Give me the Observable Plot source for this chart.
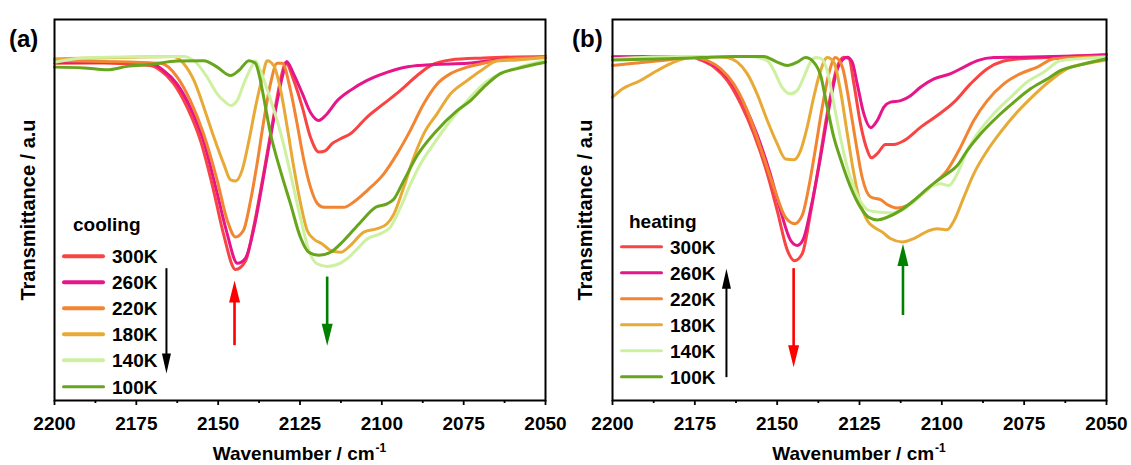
<!DOCTYPE html>
<html><head><meta charset="utf-8">
<script src="https://cdn.jsdelivr.net/npm/d3@7"></script>
<script src="https://cdn.jsdelivr.net/npm/@observablehq/plot@0.6"></script>
<style>
body{margin:0;background:#fff;font-family:"Liberation Sans",Arial,sans-serif;}
#wrap{position:relative;width:1131px;height:465px;overflow:hidden;background:#fff;}
#wrap svg{position:absolute;top:0;}
.lbl{position:absolute;font-weight:bold;color:#000;white-space:nowrap;line-height:1;transform:translateY(-50%);z-index:2;}
.sw{position:absolute;height:3.5px;border-radius:2px;transform:translateY(-50%);z-index:2;}
</style></head><body><div id="wrap"></div>
<script>
// ---------- data ----------
const temps = ["300K","260K","220K","180K","140K","100K"];
const xTicks = [2200,2175,2150,2125,2100,2075,2050];
const xMinorTicks = [2187.5,2162.5,2137.5,2112.5,2087.5,2062.5];

// (a) cooling: [wavenumber, transmittance (a.u.)]
const cooling300 = [[2200,88.5],[2185,88.6],[2170.7,87.9],[2167.6,86.6],[2163.6,83.2],[2159.5,77],[2155.4,68.2],[2151.4,55.1],[2148.4,43.8],[2144.7,34.4],[2141.6,36.7],[2139.2,45.4],[2136.1,59.6],[2133.1,74.3],[2130,87.4],[2129.4,88.7],[2126.9,84],[2124.3,77],[2121.8,69.1],[2119.2,65.2],[2117.2,65.6],[2115.2,67.4],[2112.6,68.7],[2109.6,70],[2104.5,74.4],[2099.4,77.9],[2094.3,81.4],[2089.2,85.3],[2085.1,87.9],[2079,89.4],[2068.9,89.9],[2050,90.3]];
const cooling260 = [[2200,88.7],[2185,88.8],[2170.7,88.5],[2166.7,86.6],[2162.7,83.2],[2158.5,76.9],[2154.5,68.2],[2150.5,55.1],[2147.5,44.6],[2144.1,36.0],[2141.7,37.3],[2138.9,45.9],[2135.8,60.4],[2132.8,74.8],[2130.3,85.3],[2129.1,89.0],[2127,85.8],[2124.3,80.6],[2121.8,75.6],[2119.3,73.5],[2117.2,74.8],[2113.6,78.7],[2109.6,81.4],[2104.5,84],[2099.5,85.8],[2094.3,87.2],[2089.1,87.9],[2084.2,88.2],[2073.8,88.5],[2063.7,89.5],[2050,90]];
const cooling220 = [[2200,89.2],[2185,89.0],[2167.6,88.5],[2162.5,84.9],[2158.5,78.7],[2154.5,70.1],[2150.3,57.8],[2147.2,47.2],[2144.7,42.9],[2142.3,44.6],[2140.1,52.5],[2138.1,62.2],[2136.2,72.7],[2134,83.2],[2132,88.5],[2130.4,88.5],[2127.9,81.4],[2125.9,72.7],[2123.8,63],[2121.8,56],[2119.7,51.7],[2117.7,50.7],[2111.6,50.7],[2108.6,52.1],[2104.5,55.1],[2099.4,59.5],[2095.3,64.8],[2091.3,70.9],[2087.2,77.9],[2083.1,83.1],[2079,85.8],[2073.9,87.5],[2068.9,88.5],[2063.7,89.4],[2050,90.1]];
const cooling180 = [[2200,89.7],[2179.8,90],[2163.6,90.3],[2160.5,88.4],[2157.4,84],[2154.4,77],[2151.3,69.1],[2148.3,62.1],[2146.2,57.9],[2144.7,57.6],[2142.7,60.4],[2140.6,68.2],[2138.6,77],[2136.5,84.9],[2135,89.2],[2133,87.9],[2130.9,81.4],[2128.9,71.7],[2126.9,61.2],[2124.8,51.6],[2122.8,44.6],[2120.8,42.4],[2118.2,41.1],[2115.7,39.4],[2112.6,38.9],[2109.6,40.7],[2105.5,44.2],[2101.4,45.1],[2098.4,46.4],[2096.3,49],[2093.3,56],[2090.2,63.9],[2087.2,70],[2083.1,75.3],[2079,80.5],[2073.9,84],[2068.9,87.1],[2064.8,89.1],[2058.6,89.4],[2050,90.1]];
const cooling140 = [[2200,88.8],[2189,90],[2160.5,90.3],[2156.4,88.4],[2153.4,84.9],[2150.3,80.5],[2147.8,78.3],[2146.2,77.4],[2144.2,78.7],[2142.2,83.1],[2140.1,87.1],[2138.6,89.1],[2137.1,86.5],[2134,79],[2131,70.5],[2127.9,59.5],[2124.9,48.1],[2122.3,39.4],[2119.8,35.9],[2116.7,35.2],[2113.6,35.7],[2110.6,37.2],[2107.5,39.8],[2104.5,42.4],[2100.4,43.8],[2097.4,45.5],[2094.3,50.7],[2091.2,56.9],[2088.2,62.1],[2084.1,67.4],[2079,73.5],[2073.9,78.7],[2068.9,83.1],[2063.8,85.8],[2058.7,87.3],[2050,89.3]];
const cooling100 = [[2200,87.5],[2191,87.3],[2183.9,86.8],[2177.8,87.7],[2170.7,88.2],[2162.5,89.1],[2154.4,89.2],[2150.3,87.5],[2146.2,85.3],[2143.7,86.6],[2140.6,89.2],[2138.6,88.5],[2137.1,84],[2136.1,79.6],[2134,70],[2131,60.4],[2127.9,51.6],[2124.9,42.9],[2122.3,38.9],[2119.3,38.1],[2115.7,38.9],[2111.6,42],[2106.5,46.8],[2101.9,50.7],[2098.4,51.6],[2096.3,52.9],[2093.3,57.7],[2089.2,64.3],[2084.1,70],[2077,76.1],[2072.9,78.7],[2068.9,82.2],[2063.8,85.8],[2058.7,87.1],[2050,88.8]];

// (b) heating
const heating300 = [[2200,90.3],[2176.3,90.3],[2173.3,89.4],[2169.2,87.5],[2165.2,84],[2161.1,77.9],[2157.1,70],[2153,59.5],[2150,49.9],[2146.9,39.4],[2144.7,36.7],[2142.4,38.5],[2139.9,49],[2137.3,62.1],[2134.8,75.3],[2131.8,87.5],[2129.8,90.1],[2128.2,89.7],[2126.7,83.1],[2124.7,72.6],[2122.6,65.6],[2121.4,63.7],[2119.6,64.8],[2117.1,67.2],[2114.6,67.2],[2111.5,68.2],[2106.5,71.7],[2101.4,74.8],[2096.3,78.3],[2091.3,83.1],[2086.2,87.1],[2081.2,89.1],[2076.1,89.7],[2066.1,90.1],[2050,90.8]];
const heating260 = [[2200,90],[2176.3,90.3],[2172.4,89.4],[2168.4,87.5],[2164.3,84],[2160.2,77.9],[2156.2,70],[2152.1,59.5],[2149,49.9],[2145.9,42],[2143.9,40.7],[2142,42.5],[2139.6,51.2],[2137,63],[2134.4,76.1],[2131.4,87.7],[2128.7,90.1],[2127.2,88.8],[2125.7,83.1],[2123.7,75.3],[2121.6,71.6],[2119.6,73.5],[2117.6,77],[2115.6,78.3],[2112.5,78.7],[2109.5,80],[2106.5,82.2],[2102.4,84.4],[2097.3,85.8],[2093.3,87.5],[2089.2,89.2],[2084.2,90],[2076.1,90.1],[2050,90.6]];
const heating220 = [[2200,87.9],[2193.5,88.5],[2183.4,89.4],[2175.3,90],[2171.2,89.2],[2167.2,87.1],[2163.2,83.1],[2159.1,76.1],[2155.1,66.5],[2151,56],[2147.5,48.1],[2144.7,46.4],[2142.4,48.6],[2140.4,56],[2138.3,66.5],[2136.3,77],[2134.3,85.8],[2132.3,90],[2130.2,87.5],[2128.2,78.7],[2126.2,68.2],[2124.2,58.6],[2121.6,53.4],[2118.6,52.7],[2116.1,51.2],[2113.5,50.5],[2110.5,51.2],[2106.5,53.8],[2102.4,56.9],[2098.4,60.4],[2094.3,66.5],[2090.3,73.5],[2086.2,78.7],[2081.2,83.1],[2076.1,85.8],[2071,87.5],[2066,89.7],[2050,90.3]];
const heating180 = [[2200,79.6],[2197.6,81.4],[2191.5,84],[2186.4,86.6],[2181.4,88.8],[2176.3,90.1],[2170.2,90.3],[2165.2,90],[2162.1,88.8],[2159.1,85.8],[2156.1,80.5],[2153,73.5],[2150,67.4],[2147.5,63.4],[2144.9,63.2],[2142.9,65.6],[2140.9,71.7],[2138.9,79.6],[2136.8,86.6],[2134.8,90],[2132.8,88.8],[2130.8,81.4],[2128.7,70],[2126.7,59.5],[2124.7,51.6],[2122.6,47.2],[2120.6,45.5],[2118.1,44.2],[2115.6,42.5],[2112,41.6],[2108.5,42.5],[2104.4,44.4],[2101.4,45.1],[2098.4,44.8],[2096.3,47.2],[2093.3,53.4],[2090.3,59.5],[2086.2,65.6],[2082.2,70.4],[2077.1,75.7],[2072.1,80.1],[2067,84],[2061.9,87.1],[2055.8,88.5],[2050,89.4]];
const heating140 = [[2200,89.7],[2179.3,90.3],[2158.1,90.3],[2153,89.2],[2151,86.6],[2148.5,82.2],[2145.9,80.5],[2143.9,81.4],[2141.9,84.9],[2139.9,88.8],[2138.3,90],[2136.8,89.8],[2134.8,86.6],[2132.8,77.9],[2130.8,69.1],[2128.7,61.2],[2126.7,56],[2124.2,51.6],[2122.2,49.9],[2118.6,49.4],[2115.1,49.2],[2111.5,50.3],[2107.5,52.9],[2103.4,56],[2100.4,56.9],[2097.9,56.4],[2095.3,59.5],[2092.3,65.6],[2089.2,70],[2084.2,75.3],[2079.1,79.6],[2074.1,83.6],[2069,86.2],[2064,89.2],[2050,90.1]];
const heating100 = [[2200,89.4],[2183.4,89.7],[2173.3,90],[2163.2,90.3],[2154.1,90.3],[2150,88.8],[2146.9,87.9],[2143.9,88.8],[2141.4,90],[2138.9,88.8],[2136.8,85.3],[2134.8,77],[2132.8,69.1],[2130.8,63.5],[2127.7,56],[2124.7,50.7],[2122.2,48.1],[2119.6,47.4],[2116.6,48.1],[2112.5,49.9],[2108.5,52.5],[2104.4,55.6],[2101.4,57.7],[2098.4,59.5],[2095.3,61.7],[2092.3,65.6],[2088.2,70],[2083.2,74.4],[2078.1,78.3],[2073.1,81.8],[2068,84.4],[2064,86.6],[2058.9,87.9],[2050,89.7]];

// annotation arrows: wavenumber, start value, tip value
const coolArrowWn = [2145, 2116.7, 2165.8];
const coolArrowFrom = [14.4, 32.4, 34.6];
const coolArrowTo = [31.5, 14.4, 7.1];
const heatArrowWn = [2145, 2111.8, 2165.4];
const heatArrowFrom = [34.6, 22.3, 6.0];
const heatArrowTo = [8.7, 41.1, 34.6];

// ---------- styles ----------
const palette = ["#F94444","#E6168A","#F28531","#E8AA36","#CDF1A1","#67A51D"];
const arrowColors = ["#FF0000","#008000","#000000"];
const FONT = "'Liberation Sans', Arial, Helvetica, sans-serif";

function headSymbol(w, l, dir) { // dir = +1 tip points down (in screen), -1 up
  return {draw(ctx) {
    ctx.moveTo(0, 0);
    ctx.lineTo(-w / 2, -dir * l);
    ctx.lineTo(w / 2, -dir * l);
    ctx.closePath();
  }};
}

function makePanel(series, aWn, aFrom, aTo, width, mLeft, mRight) {
  const marks = [];
  series.forEach((s, i) => {
    marks.push(Plot.line(s, {x: d => d[0], y: d => d[1], stroke: palette[i], strokeWidth: 3, curve: "monotone-x"}));
  });
  aWn.forEach((wn, i) => {
    const up = aTo[i] > aFrom[i];
    const dir = up ? -1 : 1;
    const big = i < 2;
    const w = big ? 11 : 9, l = big ? 22 : 20;
    const back = (l - 6) / 3.81;
    const d = [{wn, from: aFrom[i], to: aTo[i], end: aTo[i] + (up ? -back : back)}];
    marks.push(Plot.ruleX(d, {x: "wn", y1: "from", y2: "end", stroke: arrowColors[i], strokeWidth: big ? 2.6 : 2}));
    marks.push(Plot.dot(d, {x: "wn", y: "to", symbol: headSymbol(w, l, dir), fill: arrowColors[i], stroke: "none", r: 5}));
  });
  marks.push(Plot.axisX(xTicks, {tickSize: 5, tickPadding: 11, fontSize: 19, fontWeight: "bold", strokeWidth: 1.8, label: null, tickFormat: d => String(d), fill: "#000"}));
  marks.push(Plot.axisX(xMinorTicks, {tickSize: 3, text: null, strokeWidth: 1.8, label: null}));
  marks.push(Plot.frame({stroke: "#000", strokeWidth: 2}));
  return Plot.plot({
    width, height: 465,
    marginLeft: mLeft, marginRight: mRight, marginTop: 19, marginBottom: 65,
    x: {domain: [2200, 2050], ticks: xTicks},
    y: {domain: [0, 100], axis: null},
    style: {fontFamily: FONT, background: "transparent", overflow: "visible", color: "#000"},
    marks
  });
}

const wrap = document.getElementById("wrap");
const svgA = makePanel([cooling300, cooling260, cooling220, cooling180, cooling140, cooling100], coolArrowWn, coolArrowFrom, coolArrowTo, 565, 54, 20);
svgA.style.left = "0px";
wrap.appendChild(svgA);
const svgB = makePanel([heating300, heating260, heating220, heating180, heating140, heating100], heatArrowWn, heatArrowFrom, heatArrowTo, 566, 47, 25);
svgB.style.left = "565px";
wrap.appendChild(svgB);

// ---------- text overlays ----------
function addText(html, left, top, size, extra) {
  const el = document.createElement("div");
  el.className = "lbl";
  el.innerHTML = html;
  el.style.left = left + "px";
  el.style.top = top + "px";
  el.style.fontSize = size + "px";
  if (extra) Object.assign(el.style, extra);
  wrap.appendChild(el);
  return el;
}
function addLegend(title, tx, ty, lx, y0, dy) {
  addText(title, tx, ty, 19);
  temps.forEach((t, i) => {
    const y = y0 + i * dy;
    const sw = document.createElement("div");
    sw.className = "sw";
    sw.style.left = lx + "px"; sw.style.width = "43px"; sw.style.top = y + "px";
    sw.style.background = palette[i];
    wrap.appendChild(sw);
    addText(t, lx + 50, y, 19);
  });
}
addText("(a)", 9, 39, 24);
addText("(b)", 572, 39, 24);
addLegend("cooling", 73, 224, 62, 256, 26.1);
addLegend("heating", 629, 221, 620, 246.7, 26);
const xl = '<span>Wavenumber / cm</span><span style="font-size:12px;position:relative;top:-8px;margin-left:1px">-1</span>';
addText(xl, 299.5, 453, 19, {transform: "translate(-50%,-50%)"});
addText(xl, 859, 453, 19, {transform: "translate(-50%,-50%)"});
addText("Transmittance / a.u", 28, 210, 20, {transform: "translate(-50%,-50%) rotate(-90deg)"});
addText("Transmittance / a.u", 585, 210, 20, {transform: "translate(-50%,-50%) rotate(-90deg)"});
</script></body></html>
